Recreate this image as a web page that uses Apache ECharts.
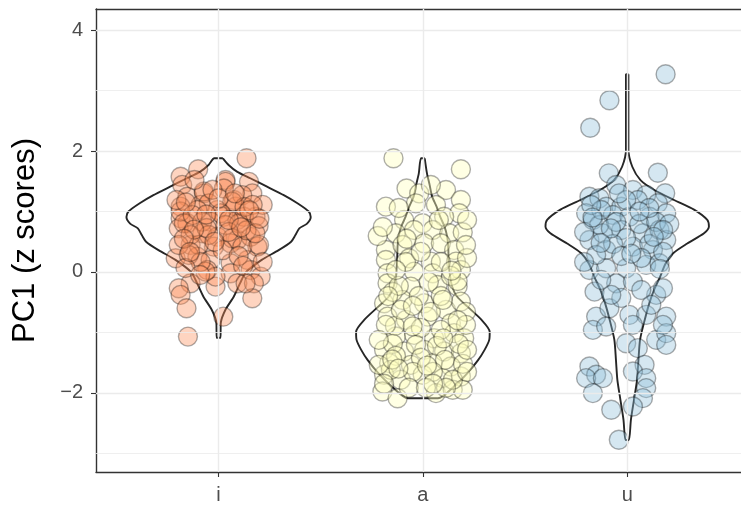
<!DOCTYPE html>
<html><head><meta charset="utf-8">
<script src="https://cdn.jsdelivr.net/npm/echarts@6/dist/echarts.min.js"></script>
<style>html,body{margin:0;padding:0;background:#fff}#c{width:741px;height:510px}</style>
</head><body><div id="c"></div>
<script>
// ---- data ----
const categories = ['i', 'a', 'u'];
const yTicks = [-2, 0, 2, 4];
const yMinor = [-3, -1, 1, 3];
const xTicks = [1, 2, 3];

// jittered points: horizontal offset from category centre, and PC1 value
const iJitter = [0.137,-0.10,-0.186,-0.178,0.034,0.149,-0.153,-0.072,0.075,0.165,
-0.186,-0.088,-0.006,0.083,0.181,-0.186,-0.153,0.026,0.092,-0.039,
-0.195,-0.08,-0.006,0.092,0.157,-0.137,-0.023,0.059,0.19,-0.21,
-0.104,-0.039,0.059,0.141,-0.055,0.059,0.157,0.206,-0.137,-0.195,
-0.186,-0.015,0.092,0.173,0.165,-0.157,0.023,-0.15,
0.034,-0.072,0.026,0.116,-0.048,0.067,-0.186,-0.104,0.01,0.124,
0.196,-0.17,-0.08,0.034,0.10,-0.137,-0.048,0.067,-0.195,-0.097,
0.116,0.198,-0.146,0.132,-0.015,-0.064,
-0.03,0.127,-0.127,0.137,0.02,-0.088,0.098,-0.162,0.216,-0.206,0.216,0.049,-0.059,0.167,-0.118,
-0.16,0.0,0.15,-0.12,0.05,0.18,-0.02,0.11,-0.17,0.08,-0.06,0.20,-0.14,0.12,-0.09];
const iValues = [1.88,1.70,1.575,1.44,1.52,1.49,1.245,1.30,1.19,1.30,
1.08,1.11,1.025,1.08,0.914,0.888,0.805,0.914,0.86,0.83,
0.72,0.64,0.583,0.53,0.583,0.446,0.418,0.474,0.418,0.226,
0.253,0.198,0.144,0.198,0.033,-0.021,0.033,-0.078,-0.187,-0.27,
-0.38,-0.243,-0.187,-0.187,-0.435,-0.60,-0.74,-1.07,
1.49,1.33,1.38,1.27,1.135,1.16,1.0,1.025,0.97,0.914,
0.76,0.805,0.83,0.777,0.805,0.61,0.61,0.557,0.446,0.446,
0.418,0.446,0.28,-0.187,-0.078,0.005,
1.36,1.075,0.94,0.69,0.36,0.165,0.264,0.066,0.165,1.19,1.11,0.66,0.727,1.11,1.52,
1.15,1.22,1.02,0.70,0.86,0.64,0.50,0.74,0.55,1.30,0.95,0.88,0.33,0.10,-0.05];

const aJitter = [-0.144,0.186,-0.08,-0.018,0.113,0.186,-0.181,-0.034,0.064,0.178,
-0.092,-0.001,0.104,-0.132,-0.043,0.048,0.129,0.195,-0.181,-0.10,
0.006,0.088,0.153,-0.181,-0.067,0.039,0.162,-0.173,-0.043,0.048,
0.186,-0.173,-0.059,0.072,0.17,-0.19,-0.10,0.006,0.113,0.186,
-0.173,-0.083,0.023,0.137,-0.132,-0.043,0.055,0.153,0.202,-0.19,
-0.092,0.006,0.104,0.186,-0.165,-0.059,0.048,0.137,-0.19,-0.108,
-0.001,0.097,0.186,-0.198,-0.124,0.064,0.146,0.195,
-0.147,-0.02,0.088,0.211,-0.137,-0.01,0.088,0.176,-0.147,-0.034,
0.069,-0.132,-0.01,0.108,0.196,-0.157,-0.049,0.049,0.147,-0.069,
0.015,0.113,-0.108,0.039,-0.181,0.211,0.216,-0.216,-0.216,0.216,
-0.049,0.098,-0.118,0.029,0.137,-0.083,-0.01,-0.132,0.088,0.216,
0.211,-0.221,0.216,-0.196,0.078,-0.118,0.039,
-0.17,0.17,-0.05,0.10,-0.15,0.05,-0.19,0.17,-0.08,0.14,0.02,-0.12];
const aValues = [1.88,1.70,1.38,1.30,1.355,1.19,1.08,1.135,1.107,0.97,
0.86,0.805,0.914,0.64,0.694,0.694,0.64,0.656,0.364,0.446,
0.474,0.474,0.364,0.198,0.226,0.17,0.17,-0.021,0.005,-0.021,
0.033,-0.187,-0.243,-0.215,-0.243,-0.517,-0.463,-0.517,-0.628,-0.491,
-0.739,-0.793,-0.739,-0.848,-1.069,-1.041,-1.096,-1.013,-1.096,-1.289,
-1.317,-1.289,-1.317,-1.344,-1.509,-1.537,-1.509,-1.565,-1.702,-1.785,
-1.702,-1.757,-1.73,-1.979,-2.09,-2.005,-1.95,-1.95,
-0.331,-0.397,-0.397,-0.661,-0.893,-0.926,-0.959,-1.19,-1.19,-1.207,
-1.223,-1.388,-1.421,-1.455,-1.521,-1.62,-1.653,-1.653,-1.785,-1.917,
-1.917,-1.917,-0.628,-0.661,-0.876,-0.876,-1.289,-1.124,-1.537,-1.653,
-0.562,-0.463,-0.231,-0.165,-0.066,0.165,0.331,0.033,0.165,0.231,
0.446,0.595,0.86,0.744,0.86,1.058,1.438,
-0.40,-0.80,-0.90,-1.10,-1.45,-1.85,-1.85,-0.15,0.55,0.02,-1.55,-1.60];

const uJitter = [0.188,-0.087,-0.181,-0.09,0.15,0.186,-0.185,-0.054,0.028,0.093,
-0.136,-0.201,-0.103,-0.029,0.052,0.15,0.191,-0.168,-0.07,0.011,
0.109,-0.185,-0.119,-0.029,0.077,0.158,0.191,-0.103,0.028,0.126,
-0.185,-0.103,-0.005,0.093,0.158,-0.16,-0.054,0.028,0.142,0.175,
-0.152,-0.087,0.011,0.093,0.191,-0.168,-0.103,0.028,0.142,0.191,
-0.005,0.052,0.085,0.028,0.093,0.093,0.077,0.028,-0.185,-0.152,
-0.201,-0.119,-0.168,-0.078,-0.041,0.191,0.175,
-0.137,-0.054,0.059,0.142,-0.211,-0.005,-0.069,0.108,0.206,-0.152,
-0.029,0.069,0.176,-0.211,-0.127,0.069,-0.029,0.118,-0.078,-0.127,
0.108,-0.005,-0.176,0.176,
-0.17,0.06,-0.08,0.13,0.02,-0.13,0.16,-0.04];
const uValues = [3.27,2.84,2.385,1.631,1.641,1.301,1.245,1.438,1.355,1.273,
1.218,0.97,1.079,1.079,1.19,1.136,0.97,0.86,0.942,0.914,
0.914,0.529,0.64,0.694,0.64,0.694,0.529,0.364,0.418,0.364,
0.033,0.061,0.061,0.116,0.144,-0.326,-0.187,-0.16,-0.38,-0.269,
-0.739,-0.60,-0.711,-0.711,-0.739,-0.959,-0.904,-0.876,-1.124,-1.013,
-1.179,-1.261,-1.537,-1.648,-1.757,-1.922,-2.088,-2.226,-1.565,-1.702,
-1.757,-1.757,-2.005,-2.281,-2.777,-1.207,-0.876,
0.777,0.826,0.793,0.826,0.661,0.562,0.463,0.463,0.793,0.281,
0.264,0.231,0.331,0.165,-0.132,-0.298,-0.43,-0.545,-0.38,1.025,
1.058,1.19,1.107,0.694,
0.90,1.0,0.72,0.58,0.30,0.48,0.05,1.30];

// violin outlines: PC1 level and half-width (in category units)
const iViolinY = [1.88,1.77,1.66,1.55,1.41,1.27,1.14,1.0,0.91,0.8,0.72,0.61,0.5,0.36,0.2,0.0,-0.18,-0.41,-0.63,-0.84,-1.09];
const iViolinW = [0.021,0.049,0.09,0.155,0.237,0.319,0.384,0.441,0.451,0.433,0.395,0.376,0.355,0.294,0.211,0.135,0.106,0.074,0.033,0.011,0.009];
const aViolinY = [1.88,1.63,1.44,1.25,1.08,0.91,0.75,0.58,0.42,0.2,-0.02,-0.24,-0.41,-0.57,-0.79,-0.99,-1.12,-1.29,-1.46,-1.68,-1.9,-2.09];
const aViolinW = [0.009,0.02,0.033,0.045,0.067,0.085,0.106,0.119,0.124,0.126,0.131,0.143,0.168,0.217,0.286,0.327,0.325,0.302,0.27,0.217,0.151,0.074];
const uViolinY = [3.27,2.02,1.74,1.52,1.36,1.19,1.03,0.86,0.75,0.64,0.47,0.31,0.14,-0.08,-0.3,-0.52,-0.79,-1.12,-1.46,-1.79,-2.12,-2.45,-2.78];
const uViolinW = [0.006,0.006,0.025,0.065,0.131,0.229,0.327,0.392,0.4,0.376,0.294,0.225,0.188,0.161,0.131,0.108,0.086,0.063,0.055,0.048,0.033,0.018,0.008];

// ---- build ----
const FONT = "'Liberation Sans', Arial, Helvetica, sans-serif";
const fills = ['rgba(252,141,89,0.38)', 'rgba(255,255,191,0.42)', 'rgba(145,191,219,0.38)'];
const groups = [
  {jit: iJitter, val: iValues, vy: iViolinY, vw: iViolinW},
  {jit: aJitter, val: aValues, vy: aViolinY, vw: aViolinW},
  {jit: uJitter, val: uValues, vy: uViolinY, vw: uViolinW}
];

function violinPath(c, ys, ws) {
  const pts = [];
  for (let k = 0; k < ys.length; k++) pts.push([c + ws[k], ys[k]]);
  for (let k = ys.length - 1; k >= 0; k--) pts.push([c - ws[k], ys[k]]);
  pts.push(pts[0]);
  return pts;
}
const minus = v => (v < 0 ? '\u2212' + Math.abs(v) : String(v));

const series = [];
series.push({
  type: 'line', data: [], silent: true, z: 1,
  markLine: {
    silent: true, symbol: ['none', 'none'], label: {show: false}, animation: false,
    data: [
      ...yMinor.map(v => ({yAxis: v, lineStyle: {color: '#ebebeb', width: 0.8, type: 'solid'}})),
      ...yTicks.map(v => ({yAxis: v, lineStyle: {color: '#ebebeb', width: 1.4, type: 'solid'}})),
      ...xTicks.map(v => ({xAxis: v, lineStyle: {color: '#ebebeb', width: 1.4, type: 'solid'}}))
    ]
  }
});
groups.forEach((g, gi) => {
  const c = gi + 1;
  series.push({
    type: 'line', data: violinPath(c, g.vy, g.vw), showSymbol: false, symbol: 'none',
    smooth: 0.25, silent: true, z: 2,
    lineStyle: {color: '#262626', width: 1.9}
  });
});
groups.forEach((g, gi) => {
  const c = gi + 1;
  series.push({
    type: 'scatter', data: g.val.map((v, k) => [c + g.jit[k], v]),
    symbolSize: 19, z: 3, silent: true,
    itemStyle: {color: fills[gi], borderColor: 'rgba(0,0,0,0.32)', borderWidth: 1.4, opacity: 1}
  });
});

const axisLineStyle = {color: '#333', width: 1.4};
const chart = echarts.init(document.getElementById('c'), null, {renderer: 'canvas'});
chart.setOption({
  animation: false,
  backgroundColor: '#fff',
  grid: {left: 96, right: 0, top: 9, bottom: 38, show: false, containLabel: false},
  xAxis: [{
    type: 'value', min: 0.4, max: 3.557,
    axisLine: {show: true, onZero: false, lineStyle: axisLineStyle}, splitLine: {show: false},
    axisTick: {show: true, customValues: xTicks, length: 5, lineStyle: {color: '#333', width: 1.1}},
    axisLabel: {customValues: xTicks, formatter: v => categories[Math.round(v) - 1], fontSize: 20, color: '#4d4d4d', margin: 13, fontFamily: FONT}
  }, {
    type: 'value', min: 0.4, max: 3.557, position: 'top',
    axisLine: {show: true, onZero: false, lineStyle: axisLineStyle}, splitLine: {show: false},
    axisTick: {show: false}, axisLabel: {show: false}
  }],
  yAxis: {
    type: 'value', min: -3.31, max: 4.35,
    name: 'PC1 (z scores)', nameLocation: 'middle', nameGap: 55,
    nameTextStyle: {fontSize: 31, color: '#000', fontFamily: FONT},
    axisLine: {show: true, onZero: false, lineStyle: axisLineStyle}, splitLine: {show: false},
    axisTick: {show: true, customValues: yTicks, length: 5, lineStyle: {color: '#333', width: 1.1}},
    axisLabel: {customValues: yTicks, formatter: minus, fontSize: 20, color: '#4d4d4d', margin: 13, fontFamily: FONT}
  },
  series: series
});
</script></body></html>
